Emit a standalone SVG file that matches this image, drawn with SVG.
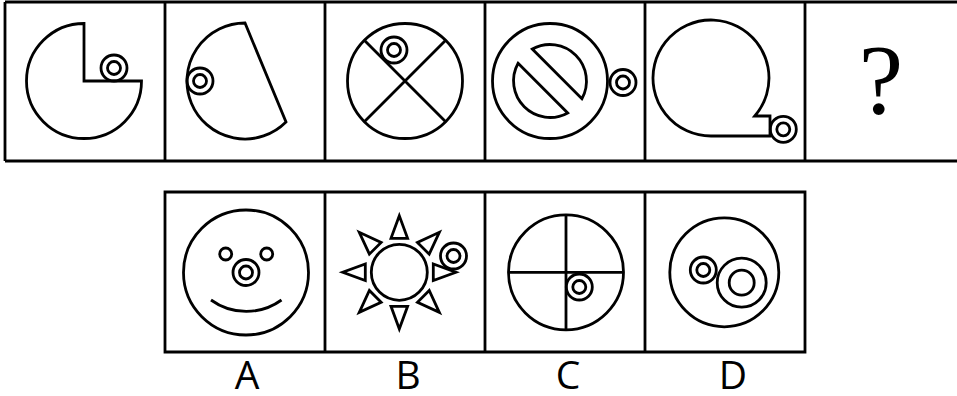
<svg xmlns="http://www.w3.org/2000/svg" width="957" height="396" viewBox="0 0 957 396">
<style>
.s{fill:none;stroke:#000;stroke-width:2.8;stroke-linejoin:miter}
.f{fill:none;stroke:#000;stroke-width:2.8}
.lbl{font-family:"Open Sans","Liberation Sans",sans-serif;font-size:39px;fill:#000;text-anchor:middle}
</style>
<defs>
<g id="ring"><circle class="s" r="13"/><circle class="s" r="6.5"/></g>
<polygon id="tri" class="s" points="34,-8.3 34,8.3 56.6,0"/>
</defs>
<rect width="957" height="396" fill="#fff"/>
<g id="frames">
<path class="f" d="M5,2 H957 M5,161 H957 M5,2 V161 M165,2 V161 M325,2 V161 M485,2 V161 M645,2 V161 M805,2 V161"/>
<path class="f" d="M165,192 H805 V352 H165 Z M325,192 V352 M485,192 V352 M645,192 V352"/>
</g>
<g id="p1">
<path class="s" d="M84,23.5 L84,81 L141.5,81 A57.5,57.5 0 1 1 84,23.5 Z"/>
<use href="#ring" x="114" y="68"/>
</g>
<g id="p2">
<path class="s" d="M245,23 A58,58 0 1 0 286,122 Z"/>
<use href="#ring" x="200" y="81"/>
</g>
<g id="p3">
<circle class="s" cx="405" cy="81" r="57.5"/>
<path class="s" d="M364.3,40.3 L445.7,121.7 M445.7,40.3 L364.3,121.7"/>
<use href="#ring" x="394" y="50"/>
</g>
<g id="p4">
<circle class="s" cx="550" cy="81" r="57.5"/>
<path class="s" d="M532.3,49.1 A36.5,36.5 0 0 1 581.9,98.7 Z"/>
<path class="s" d="M518.1,63.3 L567.7,112.9 A36.5,36.5 0 0 1 518.1,63.3 Z"/>
<use href="#ring" x="623" y="82.5"/>
</g>
<g id="p5">
<path class="s" d="M711,136 A58,58 0 1 1 754.8,116 L770,116 L770,136 Z"/>
<use href="#ring" x="783.3" y="129.3"/>
</g>
<g id="p6">
<text x="881" y="113" style="font-family:'Liberation Serif',serif;font-size:100px;text-anchor:middle">?</text>
</g>
<g id="optA">
<circle class="s" cx="246" cy="272.5" r="62.5"/>
<circle class="s" cx="225.7" cy="254" r="6"/>
<circle class="s" cx="266.7" cy="254" r="6"/>
<use href="#ring" x="246" y="272.5"/>
<path class="s" d="M211,300 A60,60 0 0 0 281.5,300"/>
<text class="lbl" x="247" y="388.5">A</text>
</g>
<g id="optB">
<circle class="s" cx="399.3" cy="272.3" r="28"/>
<g transform="translate(399.3,272.3)">
<use href="#tri"/>
<use href="#tri" transform="rotate(45)"/>
<use href="#tri" transform="rotate(90)"/>
<use href="#tri" transform="rotate(135)"/>
<use href="#tri" transform="rotate(180)"/>
<use href="#tri" transform="rotate(225)"/>
<use href="#tri" transform="rotate(270)"/>
<use href="#tri" transform="rotate(315)"/>
</g>
<use href="#ring" x="453.5" y="256"/>
<text class="lbl" x="408" y="388.5">B</text>
</g>
<g id="optC">
<circle class="s" cx="566" cy="272.3" r="57.5"/>
<path class="s" d="M508.5,272.3 H623.5 M566,214.8 V329.8"/>
<use href="#ring" x="579.3" y="287"/>
<text class="lbl" x="568" y="388.5">C</text>
</g>
<g id="optD">
<circle class="s" cx="724.3" cy="272.3" r="54.5"/>
<use href="#ring" x="703.3" y="270"/>
<circle class="s" cx="741.7" cy="282.7" r="24.5"/>
<circle class="s" cx="741.7" cy="282.7" r="12.5"/>
<text class="lbl" x="733" y="388.5">D</text>
</g>
</svg>
